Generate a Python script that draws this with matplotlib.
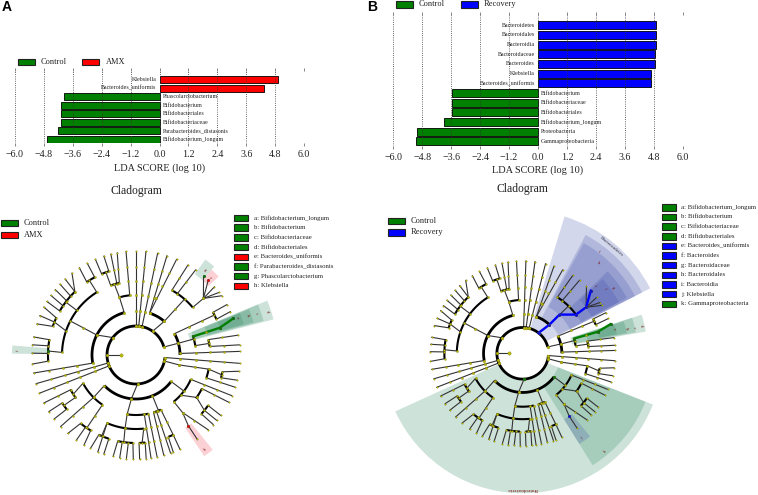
import numpy as np
import matplotlib
matplotlib.use('Agg')
import matplotlib.pyplot as plt
from matplotlib.patches import Wedge, Rectangle

plt.rcParams['font.family'] = ['Liberation Serif', 'DejaVu Sans']
W, H = 758, 495

# LDA bars, top row first
a_names = ['Klebsiella', 'Bacteroides_uniformis', 'Phascolarctobacterium', 'Bifidobacterium',
           'Bifidobacteriales', 'Bifidobacteriaceae', 'Parabacteroides_distasonis', 'Bifidobacterium_longum']
a_scores = [4.93, 4.35, -3.95, -4.07, -4.07, -4.07, -4.19, -4.66]
b_names = ['Bacteroidetes', 'Bacteroidales', 'Bacteroidia', 'Bacteroidaceae', 'Bacteroides', 'Klebsiella',
           'Bacteroides_uniformis', 'Bifidobacterium', 'Bifidobacteriaceae', 'Bifidobacteriales',
           'Bifidobacterium_longum', 'Proteobacteria', 'Gammaproteobacteria']
b_scores = [4.9, 4.9, 4.9, 4.87, 4.87, 4.7, 4.69, -3.57, -3.57, -3.57, -3.89, -5.0, -5.05]
xticks = [-6.0, -4.8, -3.6, -2.4, -1.2, 0.0, 1.2, 2.4, 3.6, 4.8, 6.0]

a_legend = ['a: Bifidobacterium_longum', 'b: Bifidobacterium', 'c: Bifidobacteriaceae', 'd: Bifidobacteriales',
            'e: Bacteroides_uniformis', 'f: Parabacteroides_distasonis', 'g: Phascolarctobacterium', 'h: Klebsiella']
a_legend_col = ['g', 'g', 'g', 'g', 'r', 'g', 'g', 'r']
b_legend = ['a: Bifidobacterium_longum', 'b: Bifidobacterium', 'c: Bifidobacteriaceae', 'd: Bifidobacteriales',
            'e: Bacteroides_uniformis', 'f: Bacteroides', 'g: Bacteroidaceae', 'h: Bacteroidales',
            'i: Bacteroidia', 'j: Klebsiella', 'k: Gammaproteobacteria']
b_legend_col = ['g', 'g', 'g', 'g', 'b', 'b', 'b', 'b', 'b', 'b', 'g']

# cladogram, read as (level, angle) pairs, shared by both panels
level_r = [15, 29, 44, 60, 74, 88, 104]
arcs = [(1, 16, 204), (1, 204, 355), (2, 50, 72), (4, 40, 61), (2, 0, 29), (5, 24, 29), (3, 9, 18), (4, 6.6, 12),
        (4, 342, 349), (5, 345, 349), (2, 224, 323), (3, 208, 236), (4, 208, 216), (5, 213, 218), (5, 231, 239),
        (3, 261.5, 282), (4, 247, 276), (5, 245, 252), (5, 258, 268), (5, 272, 276), (3, 287, 294.5),
        (5, 291.5, 295), (3, 309, 336), (4, 324, 333), (5, 318, 325), (2, 105.5, 190.6), (3, 96, 106),
        (4, 103, 110), (5, 108, 113), (4, 122, 178), (5, 118, 124), (5, 134, 150), (5, 154.7, 161), (5, 169.7, 184)]
branches = [(1, 180, 0, 180), (1, 90, 6, 90), (1, 84.5, 6, 84.5), (1, 78, 6, 78), (1, 55, 2, 50),
            (2, 72, 6, 72.7), (2, 72, 6, 67), (2, 50, 4, 49), (4, 61, 6, 60), (4, 56, 6, 55), (4, 40, 5, 40),
            (5, 40, 6, 49.5), (5, 40, 6, 46), (5, 40, 6, 41), (5, 40, 6, 37), (5, 40, 6, 34.7), (1, 16, 2, 15.5),
            (2, 29, 5, 27), (5, 29, 6, 29), (5, 24, 6, 24.7), (2, 15.5, 3, 15.5), (3, 18, 5, 18), (5, 18, 6, 20.6),
            (3, 9, 4, 9), (4, 12, 6, 11), (4, 6.6, 6, 5.6), (2, 2, 6, 2), (1, 355, 6, 355.4), (1, 348, 2, 347),
            (2, 347, 4, 349), (4, 349, 5, 347), (5, 349, 6, 351), (5, 345, 6, 346), (4, 342, 6, 342),
            (1, 273, 2, 264), (2, 224, 3, 225), (3, 208, 4, 212), (4, 208, 6, 207.5), (4, 215, 5, 215),
            (5, 213, 6, 213), (5, 218, 6, 218), (3, 225, 6, 223.5), (3, 236, 5, 236), (5, 231, 6, 229),
            (5, 235, 6, 235), (5, 239, 6, 240), (2, 264, 3, 261.5), (3, 261.5, 4, 261.5), (4, 247, 5, 247),
            (5, 245, 6, 244), (5, 252, 6, 252), (4, 247, 6, 248.5), (4, 261.5, 5, 262), (5, 258, 6, 257.3),
            (5, 261, 6, 261), (5, 265, 6, 264.7), (5, 268, 6, 268.5), (4, 276, 5, 274), (5, 272, 6, 272),
            (5, 276, 6, 275.6), (3, 278, 6, 278.3), (3, 282, 6, 281.7), (2, 292, 3, 292), (3, 287, 6, 285.5),
            (3, 290, 6, 289.4), (3, 294.5, 5, 295), (5, 291.5, 6, 291), (5, 295, 6, 295), (2, 323, 3, 323),
            (3, 309, 4, 309), (4, 309, 5, 306.5), (5, 306.5, 6, 306), (4, 309, 6, 314), (3, 318, 4, 325),
            (4, 325, 5, 321), (5, 318, 6, 318), (5, 321, 6, 321), (5, 325, 6, 324.5), (4, 333, 6, 333),
            (3, 336, 6, 337), (1, 143, 2, 153), (2, 105.5, 3, 106), (3, 96, 6, 95.5), (3, 106, 4, 107),
            (4, 103, 6, 100.4), (4, 105, 6, 104), (4, 110, 5, 110), (5, 108, 6, 108), (5, 113, 6, 113),
            (2, 153, 4, 152.6), (4, 122, 5, 122), (5, 118, 6, 118), (5, 124, 6, 123), (4, 143, 5, 143),
            (5, 134, 6, 128), (5, 134, 6, 133), (5, 138, 6, 137), (5, 142, 6, 141), (5, 146, 6, 145),
            (5, 150, 6, 149), (4, 161, 5, 158), (5, 155, 6, 152.5), (5, 158, 6, 157.7), (5, 161, 6, 162.6),
            (4, 178, 5, 177.4), (5, 170, 6, 170), (5, 174, 6, 174.4), (5, 179, 6, 179), (5, 184, 6, 185),
            (2, 190.6, 6, 190), (1, 196, 6, 196), (1, 202, 6, 201.6)]

# B has the same tree, a little squeezed on the upper right
warp_from = [0, 18, 40, 50, 90, 120, 360]
warp_to = [0, 16, 36, 47, 88, 120, 360]

# shaded clades: angle from, angle to, inner r, outer r, colour
a_wedges = [(14.5, 22.5, 56, 142, 'g'), (15, 22.5, 60, 132, 'g'), (15.5, 22, 74, 122, 'g'), (16, 22, 88, 112, 'g'),
            (175.6, 179.4, 88, 124, 'g'), (48.5, 54, 100, 118, 'g'), (43.5, 48.5, 100, 114, 'r'),
            (304, 309, 88, 122, 'r')]
a_tags = [('a', 20, 108), ('b', 20, 118.5), ('c', 19, 127), ('d', 18.5, 138), ('f', 177.5, 118),
          ('g', 51, 109), ('e', 46, 107), ('h', 306, 117)]
a_paths = [('g', [(3, 18), (5, 18), (6, 20.6)])]
a_dots = [('g', 3, 18), ('g', 5, 18), ('g', 6, 20.6), ('g', 5, 177.4), ('g', 6, 49.5), ('r', 6, 46), ('r', 5, 306.5)]

b_wedges = [(27, 73, 27, 143, 'b'), (27, 62, 40, 134, 'b'), (27, 61, 53, 126, 'b'), (28, 44, 66, 118, 'b'),
            (28, 43, 78, 109, 'b'), (204.5, 338.5, 27, 140, 'g'), (302, 338.5, 38, 132, 'g'),
            (302, 309, 78, 107, 'b'), (10, 18, 50, 125, 'g'), (10.5, 18, 53, 115, 'g'), (11, 17.5, 66, 106, 'g'),
            (11.5, 17.5, 78, 96, 'g')]
b_tags = [('a', 15, 95), ('b', 14, 107), ('c', 13, 114), ('d', 13, 122), ('e', 43, 99), ('f', 38, 105),
          ('g', 36, 112), ('h', 50, 118), ('i', 53, 127), ('j', 305, 103), ('k', 310, 128)]
b_paths = [('b', [(1, 55), (2, 50), (3, 49.5), (4, 40), (5, 40), (6, 46)]), ('g', [(3, 18), (5, 18), (6, 20.6)])]
b_dots = [('b', 1, 55), ('b', 2, 50), ('b', 3, 49.5), ('b', 4, 40), ('b', 5, 40), ('b', 6, 46), ('g', 3, 18),
          ('g', 5, 18), ('g', 6, 20.6), ('g', 1, 273), ('g', 2, 323), ('b', 5, 306.5)]

fills = {'g': '#008000', 'r': '#ff0000', 'b': '#0000ff'}
shades = {'g': '#1f7f55', 'r': '#f03040', 'b': '#3a4aa8'}
node_s = [6, 4.5, 3.5, 3, 2.5, 2, 1.2]

fig = plt.figure(figsize=(W / 100, H / 100), dpi=100)


def px_axes(x0, y0, x1, y1):
    return fig.add_axes([x0 / W, 1 - y1 / H, (x1 - x0) / W, (y1 - y0) / H])


def bar_panel(box, ylim, names, scores, pos_col, label_y):
    ax = px_axes(*box)
    y = np.arange(len(names))
    cols = [fills[pos_col] if v > 0 else fills['g'] for v in scores]
    ax.barh(y, scores, height=0.82, color=cols, edgecolor='k', linewidth=0.6, zorder=2)
    for i, v in enumerate(scores):
        if v > 0:
            ax.text(-0.12, i, names[i], ha='right', va='center', fontsize=4.3, color='#222222')
        else:
            ax.text(0.13, i, names[i], ha='left', va='center', fontsize=4.3, color='#222222')
    ax.set_xlim(-6, 6)
    ax.set_ylim(*ylim)
    ax.set_yticks([])
    ax.set_xticks(xticks)
    ax.set_xticklabels(['%.1f' % t if t >= 0 else '\u2212%.1f' % -t for t in xticks], fontsize=7.2, color='#222222')
    ax.tick_params(axis='x', top=True, length=2, width=0.5, color='#555555', pad=3)
    ax.grid(axis='x', linestyle=':', color='#333333', linewidth=0.6, zorder=3)
    ax.set_axisbelow(False)
    for s in ax.spines.values():
        s.set_visible(False)
    ax.set_xlabel('LDA SCORE (log 10)', fontsize=7.4, color='#222222', labelpad=label_y)
    return ax


bar_panel((14.7, 71, 304.3, 143), (7.45, -1.02), a_names, a_scores, 'r', 3)
bar_panel((393.3, 15, 682.7, 146), (12.47, -1.06), b_names, b_scores, 'b', 2.5)


def clade_panel(cx, cy, scale, warp, wedges, tags, paths, dots):
    ax = fig.add_axes([0, 0, 1, 1], facecolor='none')
    ax.set_xlim(-cx, W - cx)
    ax.set_ylim(cy - H, cy)
    ax.axis('off')

    def ang(a):
        return np.interp(a, warp_from, warp_to) if warp else a

    def xy(level, a):
        t = np.radians(ang(a))
        r = np.interp(level, range(7), level_r) * scale
        return r * np.cos(t), r * np.sin(t)

    for a1, a2, r0, r1, c in wedges:
        ax.add_patch(Wedge((0, 0), r1, a1, a2, width=r1 - r0, facecolor=shades[c], alpha=0.22, linewidth=0, zorder=1))
    for l1, a1, l2, a2 in branches:
        x1, y1 = xy(l1, a1)
        x2, y2 = xy(l2, a2)
        ax.plot([x1, x2], [y1, y2], color='#333333', lw=0.8, zorder=2, solid_capstyle='round')
        lo, hi = sorted((l1, l2))
        for k in range(lo, hi + 1):
            f = (k - l1) / (l2 - l1)
            px, py = xy(k, a1 + f * (a2 - a1))
            ax.scatter(px, py, s=node_s[k], color='#b9b900', edgecolor='#6f6f20', linewidth=0.2, zorder=5)
    for lev, a1, a2 in arcs:
        t = np.radians(ang(np.linspace(a1, a2, 60)))
        r = level_r[lev] * scale
        ax.plot(r * np.cos(t), r * np.sin(t), color='k', lw=2.0 if lev < 3 else 1.5, zorder=3, solid_capstyle='butt')
    for c, pts in paths:
        p = np.array([xy(*q) for q in pts])
        ax.plot(p[:, 0], p[:, 1], color=fills[c], lw=1.7, zorder=4)
    for c, lev, a in dots:
        px, py = xy(lev, a)
        ax.scatter(px, py, s=max(node_s[lev], 4), color=fills[c], edgecolor='#333333', linewidth=0.2, zorder=6)
    for s, a, r in tags:
        t = np.radians(a)
        rot = a - 90 if 0 <= a < 180 else a + 90
        ax.text(r * np.cos(t), r * np.sin(t), s, fontsize=3.2, color='#7a1010', ha='center', va='center', rotation=rot, zorder=7)
    return ax


ax_a = clade_panel(136, 355, 1.0, False, a_wedges, a_tags, a_paths, a_dots)
ax_b = clade_panel(522.7, 353.3, 0.89, True, b_wedges, b_tags, b_paths, b_dots)
ax_b.text(139 * np.cos(np.radians(50)), 139 * np.sin(np.radians(50)), 'Bacteroidetes', fontsize=3.8, color='#333344',
          rotation=-40, ha='center', va='center', zorder=7)
ax_b.text(0, -136, 'Proteobacteria', fontsize=3.8, color='#7a1010', rotation=180, ha='center', va='center', zorder=7)

# page level text and legends, in image pixels
top = fig.add_axes([0, 0, 1, 1], facecolor='none')
top.set_xlim(0, W)
top.set_ylim(H, 0)
top.axis('off')


def swatch(x, y, c, w=17, h=6.5, edge='#222222'):
    top.add_patch(Rectangle((x, y - h / 2), w, h, facecolor=fills[c], edgecolor=edge, linewidth=0.8))


def keyed(x, y, c, label, tx, fs, w=17):
    swatch(x, y, c, w=w)
    top.text(tx, y, label, fontsize=fs, va='center', ha='left', color='#222222')


top.text(2, 7, 'A', fontsize=10, fontweight='bold', family='Liberation Sans', va='center')
top.text(367, 7, 'B', fontsize=10, fontweight='bold', family='Liberation Sans', va='center')
keyed(18, 62, 'g', 'Control', 41, 6)
keyed(82, 62, 'r', 'AMX', 106, 6)
keyed(396, 4.5, 'g', 'Control', 419, 6)
keyed(461, 4.5, 'b', 'Recovery', 484, 6)
top.text(136, 191, 'Cladogram', fontsize=8.4, ha='center', va='center', color='#222222')
top.text(522, 189, 'Cladogram', fontsize=8.4, ha='center', va='center', color='#222222')
keyed(1, 223, 'g', 'Control', 24, 6)
keyed(1, 235, 'r', 'AMX', 24, 6)
keyed(388, 221, 'g', 'Control', 411, 6)
keyed(388, 232.5, 'b', 'Recovery', 411, 6)
for i, (s, c) in enumerate(zip(a_legend, a_legend_col)):
    keyed(234, 218 + i * 9.7, c, s, 254, 4.9, w=14)
for i, (s, c) in enumerate(zip(b_legend, b_legend_col)):
    keyed(662, 207.3 + i * 9.65, c, s, 681, 4.9, w=14)

fig.savefig('out.png', dpi=100)
